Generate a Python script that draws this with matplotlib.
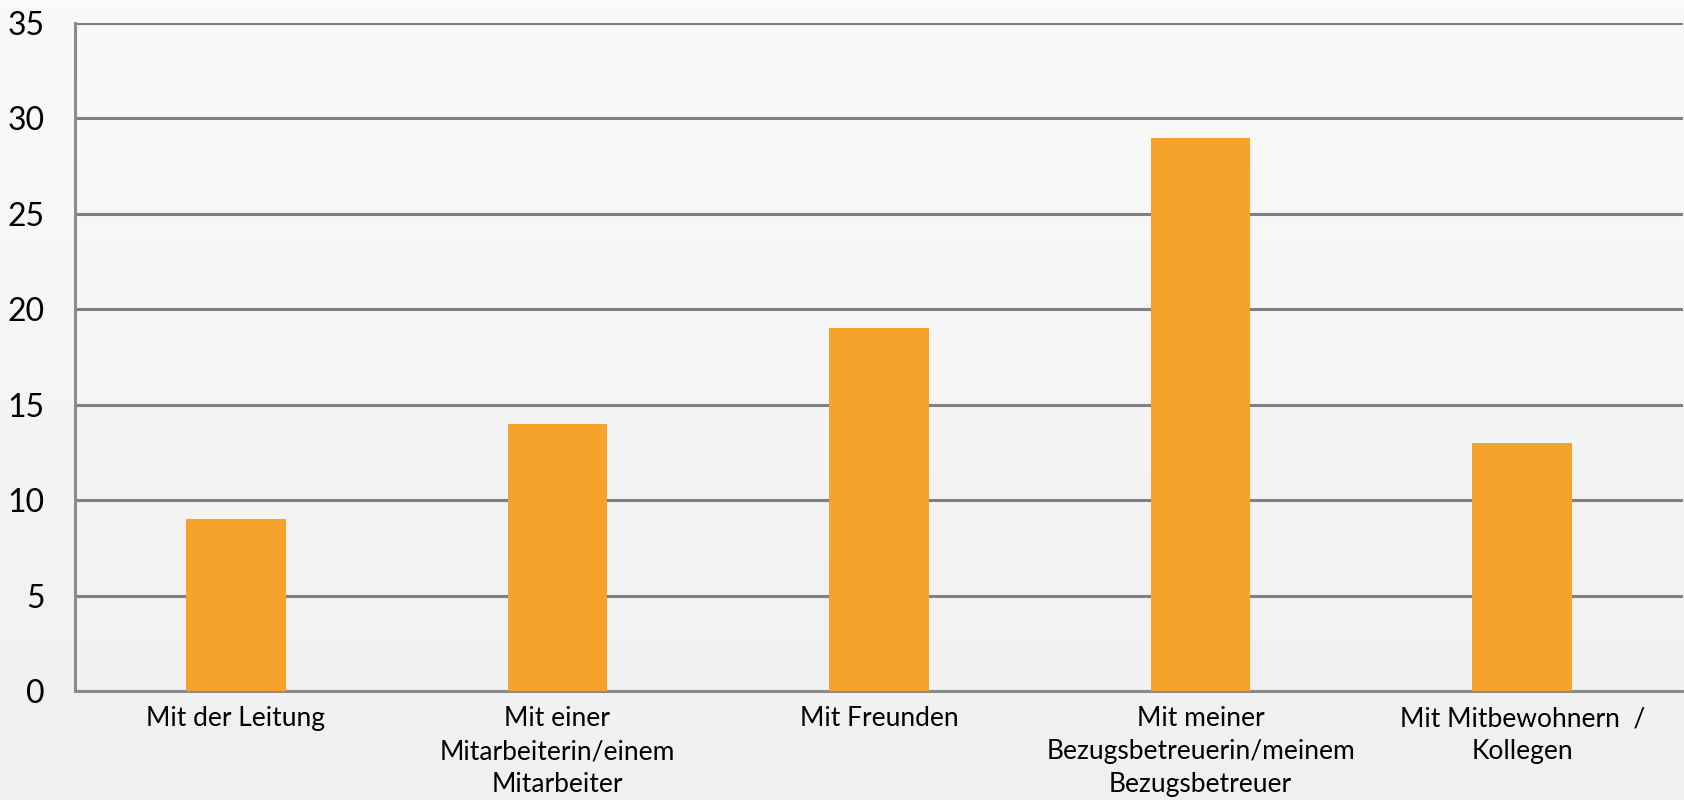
import matplotlib
matplotlib.use("Agg")
import matplotlib.pyplot as plt
import numpy as np
from matplotlib.colors import LinearSegmentedColormap

categories = ["Mit der Leitung",
              "Mit einer\nMitarbeiterin/einem\nMitarbeiter",
              "Mit Freunden",
              "Mit meiner\nBezugsbetreuerin/meinem\nBezugsbetreuer",
              "Mit Mitbewohnern  /\nKollegen"]
values = [9, 14, 19, 29, 13]
yticks = [0, 5, 10, 15, 20, 25, 30, 35]

plt.rcParams['font.family'] = ['Lato', 'DejaVu Sans']

fig = plt.figure(figsize=(16.84, 8.0), dpi=100)
bg = fig.add_axes([0, 0, 1, 1], zorder=-10)
grad = np.linspace(0, 1, 256).reshape(-1, 1)
cmap = LinearSegmentedColormap.from_list("g", ["#FAFAFA", "#F0F0F0"])
bg.imshow(grad, aspect='auto', cmap=cmap, extent=[0, 1, 0, 1], origin='upper')
bg.axis('off')

ax = fig.add_axes([75/1684, 109/800, 1608/1684, 668/800])
ax.set_facecolor('none')
x = np.arange(len(categories))
ax.bar(x, values, width=0.31, color='#F6A32C', zorder=3)
ax.set_xlim(-0.5, len(categories) - 0.5)
ax.set_ylim(0, 35)
ax.set_yticks(yticks)
ax.set_yticklabels([str(t) for t in yticks], fontsize=23)
ax.set_xticks(x)
ax.set_xticklabels(categories, fontsize=19, linespacing=1.4)
ax.tick_params(axis='y', length=0, pad=22)
ax.tick_params(axis='x', length=0, pad=11)
ax.grid(axis='y', color='#808080', linewidth=2.2, zorder=1)
for s in ['top', 'right']:
    ax.spines[s].set_visible(False)
for s in ['left', 'bottom']:
    ax.spines[s].set_color('#8C8C8C')
    ax.spines[s].set_linewidth(2.2)

fig.savefig('out.png', dpi=100)
